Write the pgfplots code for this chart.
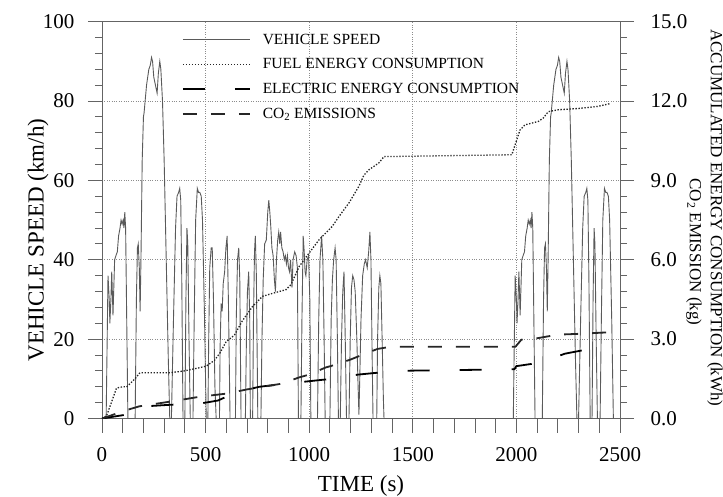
\documentclass[border=0pt]{standalone}
\usepackage{pgfplots}
\pgfplotsset{compat=1.18}
\usepackage{fontspec}
\setmainfont{Liberation Serif}
\definecolor{axgray}{RGB}{100,100,100}
\definecolor{spdgray}{RGB}{90,90,90}
\definecolor{gridgray}{RGB}{140,140,140}
\begin{document}
\begin{tikzpicture}[x=1pt,y=1pt]
\useasboundingbox (-102,-77.5) rectangle (621,418.5);
\begin{axis}[
  at={(0,0)}, anchor=south west,
  scale only axis, width=518pt, height=396.8pt,
  xmin=0, xmax=2500, ymin=0, ymax=100,
  xtick={0,500,...,2500}, ytick={0,20,...,100},
  extra x ticks={100,200,300,400,600,700,800,900,1100,1200,1300,1400,1600,1700,1800,1900,2100,2200,2300,2400},
  extra x tick labels={},
  extra x tick style={grid=none},
  minor y tick num=4,
  xtick pos=left, ytick pos=left,
  tick align=outside,
  major tick length=14pt, minor tick length=7pt,
  axis line style={axgray, line width=0.9pt},
  tick style={axgray, line width=0.9pt},
  grid=major, grid style={gridgray, dotted, line width=0.8pt},
  /pgf/number format/assume math mode=true,
  /pgf/number format/set thousands separator={},
  tick label style={font=\fontsize{21}{24}\selectfont},
  xticklabel shift=11pt,
  yticklabel shift=10pt,
  every axis x label/.style={at={(rel axis cs:0.5,0)}, anchor=base, yshift=-73pt},
  xlabel={TIME (s)},
  label style={font=\fontsize{23}{26}\selectfont},
]
\addplot[spdgray, line width=0.9pt] coordinates {
(0,0)(20,0)(29,36)(35,30)(38,24)(43,30)(47,37)(51,30)(53,26)(57,33)(61,40)(67,41)(74,42)(80,46)(87,48)(92,50)(97,49)(102,50)(106,48)(110,52)(114,48)(125,0)
(160,0)(166,30)(171,43)(175,44)(180,38)(184,27)(188,40)(194,65)(200,76)(203,77)(215,84)(226,88)(233,89)(239,91)(244,90)(250,86)(258,84)(266,82)(272,87)(279,90)(284,88)(292,80)(300,65)(310,40)(320,15)(327,0)
(335,0)(345,25)(355,48)(362,56)(370,57)(375,58)(380,55)(385,35)(391,0)
(400,0)(405,30)(410,48)(414,44)(420,20)(426,0)
(439,0)(445,25)(452,50)(460,58)(466,57)(472,57)(479,56)(485,50)(495,25)(503,0)
(511,0)(515,20)(520,38)(527,43)(532,43)(538,30)(545,8)(551,0)
(567,0)(570,18)(575,29)(580,27)(585,34)(592,37)(598,43)(604,46)(610,30)(618,0)
(644,0)(648,25)(654,40)(660,43)(665,35)(671,0)
(692,0)(697,20)(702,32)(708,37)(713,25)(716,0)
(727,0)(731,25)(736,42)(740,46)(745,36)(752,0)
(767,0)(772,20)(778,35)(785,44)(793,45)(800,52)(805,55)(810,52)(815,48)(820,43)(826,41)(832,35)(837,32)(842,40)(848,45)(853,47)(858,44)(862,47)(868,43)(874,42)(880,40)(885,41)(890,39)(895,41)(900,38)(905,37)(910,40)(917,33)(922,40)(930,42)(937,41)(943,38)(948,0)
(960,0)(965,25)(971,46)(976,42)(980,37)(984,36)(990,40)(997,41)(1003,30)(1008,0)
(1040,0)(1046,25)(1052,40)(1060,46)(1066,40)(1072,20)(1077,0)
(1100,0)(1106,25)(1112,35)(1118,40)(1125,43)(1130,40)(1136,20)(1141,0)
(1150,0)(1156,20)(1162,32)(1168,37)(1174,20)(1180,0)
(1192,0)(1198,20)(1204,33)(1210,36)(1216,35)(1222,32)(1230,20)(1236,8)(1240,1)(1244,10)(1250,25)(1258,36)(1266,39)(1272,40)(1280,38)(1287,42)(1293,47)(1298,40)(1304,15)(1308,0)
(1326,0)(1330,20)(1336,33)(1341,36)(1346,34)(1352,20)(1358,5)(1361,0)
(1985,0)(1994,36)(2000,30)(2003,24)(2008,30)(2012,37)(2016,30)(2018,26)(2022,33)(2026,40)(2032,41)(2039,42)(2045,46)(2052,48)(2057,50)(2062,49)(2067,50)(2071,48)(2075,52)(2079,48)(2090,0)
(2125,0)(2131,30)(2136,43)(2140,44)(2145,38)(2149,27)(2153,40)(2159,65)(2165,76)(2168,77)(2180,84)(2191,88)(2198,89)(2204,91)(2209,90)(2215,86)(2223,84)(2231,82)(2237,87)(2244,90)(2249,88)(2257,80)(2265,65)(2275,40)(2285,15)(2292,0)
(2300,0)(2310,25)(2320,48)(2327,56)(2335,57)(2340,58)(2345,55)(2350,35)(2356,0)
(2365,0)(2370,30)(2375,48)(2379,44)(2385,20)(2391,0)
(2404,0)(2410,25)(2417,50)(2425,58)(2431,57)(2437,57)(2444,56)(2450,50)(2460,25)(2468,0)
};
\end{axis}
\begin{axis}[
  at={(0,0)}, anchor=south west,
  scale only axis, width=518pt, height=396.8pt,
  xmin=0, xmax=2500, ymin=0, ymax=15,
  axis x line=none, axis y line*=right,
  ytick={0,3,...,15}, minor y tick num=4,
  tick align=outside,
  major tick length=14pt, minor tick length=7pt,
  axis line style={axgray, line width=0.9pt},
  tick style={axgray, line width=0.9pt},
  /pgf/number format/assume math mode=true,
  yticklabel style={/pgf/number format/.cd, fixed, fixed zerofill, precision=1},
  tick label style={font=\fontsize{21}{24}\selectfont},
  yticklabel shift=13pt,
  legend style={draw=none, fill=none, at={(0.154,0.975)}, anchor=north west,
    font=\fontsize{15.5}{17}\selectfont, row sep=9pt, inner sep=0pt},
  legend cell align=left,
  legend image code/.code={\draw[#1] (0pt,0pt) -- (67pt,0pt); \path (77pt,0pt);},
]
\addlegendimage{spdgray, line width=0.9pt}
\addlegendentry{VEHICLE SPEED}
\addplot[black!85, line width=1.3pt, dash pattern=on 1.4pt off 1.6pt] coordinates {
(0,0)(22,0.1)(45,0.6)(70,1.15)(100,1.2)(119,1.2)(140,1.35)(159,1.5)(183,1.73)(327,1.73)(391,1.79)(471,1.92)(503,1.98)(543,2.2)(567,2.45)(599,2.9)(639,3.15)(678,3.7)(727,4.24)(775,4.62)(832,4.75)(888,4.87)(912,5.06)(952,5.75)(1000,6.26)(1048,6.76)(1111,7.26)(1144,7.64)(1192,8.15)(1240,8.78)(1264,9.2)(1288,9.4)(1336,9.66)(1361,9.9)(1978,9.97)(2017,10.9)(2041,11.1)(2106,11.23)(2130,11.36)(2154,11.6)(2202,11.67)(2300,11.72)(2394,11.8)(2450,11.9)
};
\addlegendentry{FUEL ENERGY CONSUMPTION}
\addplot[black, line width=1.8pt, dash pattern=on 22pt off 30pt] coordinates {
(0,0)(120,0.15)(140,0.3)(190,0.45)(330,0.52)(470,0.56)(560,0.68)(650,1.0)(760,1.2)(870,1.3)(1000,1.41)(1120,1.51)(1236,1.66)(1356,1.75)(1400,1.8)(1990,1.86)(2000,1.98)(2114,2.11)(2234,2.45)(2354,2.63)(2450,2.72)
};
\addlegendentry{ELECTRIC ENERGY CONSUMPTION}
\addplot[black!85, line width=1.8pt, dash pattern=on 14pt off 14pt] coordinates {
(0,0)(128,0.34)(180,0.46)(330,0.64)(470,0.82)(600,0.94)(700,1.1)(870,1.32)(950,1.55)(1000,1.66)(1080,1.93)(1130,2.04)(1200,2.23)(1260,2.42)(1330,2.63)(1392,2.71)(1995,2.71)(2024,2.98)(2090,3.02)(2200,3.17)(2300,3.2)(2450,3.26)
};
\addlegendentry{CO\textsubscript{2} EMISSIONS}
\end{axis}
\node[rotate=90, font=\fontsize{23}{26}\selectfont] at (-64,178.5) {VEHICLE SPEED (km/h)};
\node[rotate=-90, font=\fontsize{17}{19}\selectfont] at (613,200.5) {ACCUMULATED ENERGY CONSUMPTION (kWh)};
\node[rotate=-90, font=\fontsize{17}{19}\selectfont] at (592,166.5) {CO\textsubscript{2} EMISSION (kg)};
\end{tikzpicture}
\end{document}
